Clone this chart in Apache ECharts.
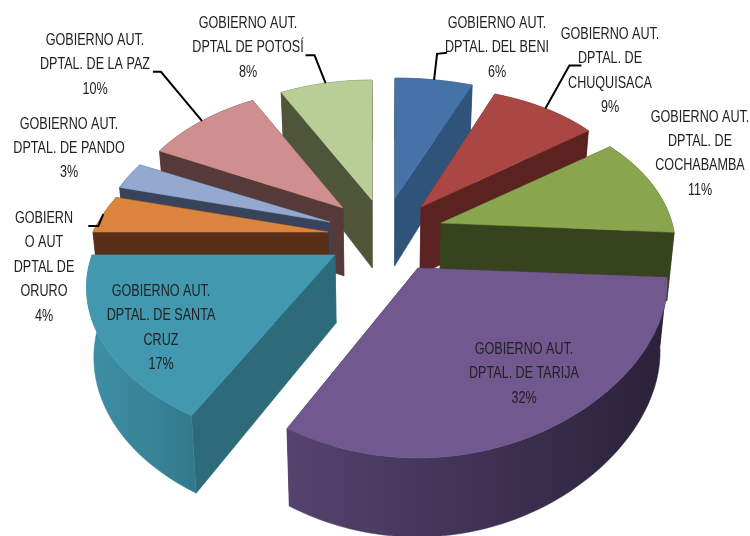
<!DOCTYPE html>
<html><head><meta charset="utf-8">
<style>html,body{margin:0;padding:0;background:#fff}#c{width:750px;height:536px}</style>
<script src="https://cdn.jsdelivr.net/npm/echarts@6/dist/echarts.min.js"></script>
</head><body><div id="c"></div>
<script>
// ---- data ----
const labels = [
  "GOBIERNO AUT.\nDPTAL. DEL BENI",
  "GOBIERNO AUT.\nDPTAL. DE\nCHUQUISACA",
  "GOBIERNO AUT.\nDPTAL. DE\nCOCHABAMBA",
  "GOBIERNO AUT.\nDPTAL. DE TARIJA",
  "GOBIERNO AUT.\nDPTAL. DE SANTA\nCRUZ",
  "GOBIERN\nO AUT\nDPTAL DE\nORURO",
  "GOBIERNO AUT.\nDPTAL. DE PANDO",
  "GOBIERNO AUT.\nDPTAL. DE LA PAZ",
  "GOBIERNO AUT.\nDPTAL DE POTOSÍ"
];
const shares = [6, 9, 11, 32, 17, 4, 3, 10, 8];

// ---- styles and layout (one entry per slice) ----
const topColors = ["#4573a7","#aa4644","#89a54e","#71588f","#4198af","#db843d","#93a9cf","#cf8f8e","#b9cd96"];
const cutColors = ["#2f5379","#5a2320","#37431c","#2a2139","#2d6a7a","#582f16","#39445b","#563a3a","#4e5538"];
const wallColors = [["#2f5379","#2f5379"],["#5a2320","#5a2320"],["#37431c","#37431c"],["#55436f","#2a2139"],["#3e90a6","#33798c"],["#582f16","#582f16"],["#39445b","#39445b"],["#563a3a","#563a3a"],["#4e5538","#4e5538"]];
const apexes = [[395,198],[421,207],[441,223],[418,268],[335,255],[328,232],[330,222],[343,208],[372,200]];
const radii = [229,219,231,248,243,235,228,220,205];
const widthPerspective = [0.1,0.1,0.18,0.1,0.21,0.3,0.2,0.2,0.1];
const labelCenters = [[497,23],[610,34],[700,117],[524,349],[161,291],[44,218],[69,124],[95,40],[248,23]];
const lineStep = [24.6,24.6,24.4,24.6,24.6,24.6,24.2,24.6,24.6];
const elbows = [[[3,-26],[13,-27]],[[24,-43],[36,-43]],null,null,null,[[-5,12],[-15,12]],null,[[-41,-49],[-49,-49]],[[-11,-28],[-20,-28]]];
const drawOrder = [8,0,7,1,6,5,2,4,3];

// ---- projection of the tilted pie ----
const PY = 0.226, KR = 147, THICK = 68, BASE_X = 380, BOTTOM_SHRINK = 0.975, TEXT_SQUEEZE = 0.74;
const total = shares.reduce((a,b)=>a+b,0);
const starts = []; shares.reduce((a,v,i)=>{starts[i]=a;return a+v;},0);
function rim(i, th){
  const c = Math.cos(th), s = Math.sin(th);
  return [apexes[i][0] + radii[i]*s/(1+widthPerspective[i]*c), apexes[i][1] - KR*c/(1+PY*c)];
}
function drop(p, c){
  return [BASE_X + (p[0]-BASE_X)*BOTTOM_SHRINK, p[1] + THICK/(1+0.14*c)];
}
function angle(share){ return share/total*2*Math.PI; }
function sliceShapes(i){
  const a0 = angle(starts[i]), a1 = angle(starts[i]+shares[i]);
  const n = Math.max(8, Math.round(shares[i]*2));
  const arc = [], low = [];
  for(let k=0;k<=n;k++){
    const th = a0+(a1-a0)*k/n;
    const p = rim(i,th);
    arc.push(p); low.push(drop(p,Math.cos(th)));
  }
  const apex = apexes[i], apexLow = drop(apex,0);
  const poly = (pts,fill)=>({type:'polygon',shape:{points:pts},style:{fill,stroke:fill,lineWidth:0.5},silent:true});
  const wallFill = new echarts.graphic.LinearGradient(0,0,1,0,[{offset:0,color:wallColors[i][0]},{offset:1,color:wallColors[i][1]}]);
  return [
    poly([apex,arc[0],low[0],apexLow],cutColors[i]),
    poly([apex,arc[n],low[n],apexLow],cutColors[i]),
    poly(arc.concat(low.slice().reverse()),wallFill),
    poly([apex].concat(arc),topColors[i])
  ];
}
function labelShapes(i){
  const out = [];
  const rows = (labels[i]+"\n"+shares[i]+"%").split("\n");
  rows.forEach((t,r)=>out.push({type:'text',silent:true,
    x:labelCenters[i][0],y:labelCenters[i][1]+r*lineStep[i],scaleX:TEXT_SQUEEZE,
    style:{text:t,x:0,y:0,align:'center',verticalAlign:'middle',fill:'#222',
    font:'17px "Liberation Sans",sans-serif'}}));
  if(elbows[i]){
    const mid = rim(i,angle(starts[i]+shares[i]/2));
    const pts = [mid].concat(elbows[i].map(e=>[mid[0]+e[0],mid[1]+e[1]]));
    out.push({type:'polyline',silent:true,shape:{points:pts},style:{stroke:'#000',lineWidth:2,fill:null}});
  }
  return out;
}
const chart = echarts.init(document.getElementById('c'),null,{renderer:'canvas'});
chart.setOption({
  backgroundColor:'#fff',animation:false,
  series:[
    {type:'custom',coordinateSystem:'none',z:2,data:drawOrder.map(i=>[i,shares[i]]),
      renderItem:(p,api)=>({type:'group',children:sliceShapes(api.value(0))})},
    {type:'custom',coordinateSystem:'none',z:3,data:drawOrder.map(i=>[i,shares[i]]),
      renderItem:(p,api)=>({type:'group',children:labelShapes(api.value(0))})}
  ]
});
</script></body></html>
